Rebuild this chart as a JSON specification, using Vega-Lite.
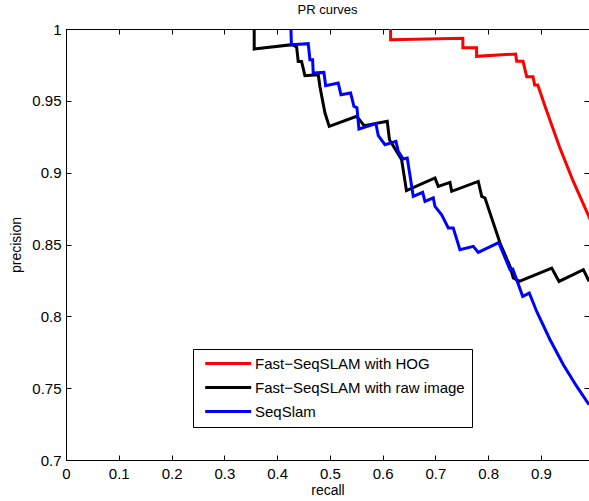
{
  "$schema": "https://vega.github.io/schema/vega-lite/v6.json",
  "width": 523,
  "height": 431,
  "autosize": {"type": "none"},
  "padding": {"left": 66, "top": 29, "right": 0, "bottom": 41},
  "background": "white",
  "title": {"text": "PR curves", "font": "Liberation Sans", "fontSize": 13, "fontWeight": "normal", "color": "black", "anchor": "middle", "offset": 5},
  "config": {
    "view": {"stroke": "black", "strokeWidth": 1},
    "axis": {
      "grid": false,
      "domainColor": "black",
      "tickColor": "black",
      "labelColor": "black",
      "titleColor": "black",
      "labelFont": "Liberation Sans",
      "titleFont": "Liberation Sans",
      "labelFontSize": 15,
      "titleFontSize": 14,
      "titleFontWeight": "normal",
      "tickSize": -5
    }
  },
  "data": {
    "values": [
      {"s": "Fast−SeqSLAM with HOG", "i": 0, "recall": 0.615, "precision": 1.0},
      {"s": "Fast−SeqSLAM with HOG", "i": 1, "recall": 0.615, "precision": 0.9925},
      {"s": "Fast−SeqSLAM with HOG", "i": 2, "recall": 0.752, "precision": 0.9936},
      {"s": "Fast−SeqSLAM with HOG", "i": 3, "recall": 0.752, "precision": 0.987},
      {"s": "Fast−SeqSLAM with HOG", "i": 4, "recall": 0.778, "precision": 0.987},
      {"s": "Fast−SeqSLAM with HOG", "i": 5, "recall": 0.778, "precision": 0.981},
      {"s": "Fast−SeqSLAM with HOG", "i": 6, "recall": 0.852, "precision": 0.9826},
      {"s": "Fast−SeqSLAM with HOG", "i": 7, "recall": 0.854, "precision": 0.9775},
      {"s": "Fast−SeqSLAM with HOG", "i": 8, "recall": 0.866, "precision": 0.9775},
      {"s": "Fast−SeqSLAM with HOG", "i": 9, "recall": 0.873, "precision": 0.9668},
      {"s": "Fast−SeqSLAM with HOG", "i": 10, "recall": 0.885, "precision": 0.9668},
      {"s": "Fast−SeqSLAM with HOG", "i": 11, "recall": 0.888, "precision": 0.961},
      {"s": "Fast−SeqSLAM with HOG", "i": 12, "recall": 0.894, "precision": 0.961},
      {"s": "Fast−SeqSLAM with HOG", "i": 13, "recall": 0.907, "precision": 0.947},
      {"s": "Fast−SeqSLAM with HOG", "i": 14, "recall": 0.935, "precision": 0.918},
      {"s": "Fast−SeqSLAM with HOG", "i": 15, "recall": 0.96, "precision": 0.895},
      {"s": "Fast−SeqSLAM with HOG", "i": 16, "recall": 0.989, "precision": 0.871},
      {"s": "Fast−SeqSLAM with HOG", "i": 17, "recall": 0.995, "precision": 0.866},

      {"s": "Fast−SeqSLAM with raw image", "i": 0, "recall": 0.3566, "precision": 1.0},
      {"s": "Fast−SeqSLAM with raw image", "i": 1, "recall": 0.3566, "precision": 0.9861},
      {"s": "Fast−SeqSLAM with raw image", "i": 2, "recall": 0.4286, "precision": 0.9891},
      {"s": "Fast−SeqSLAM with raw image", "i": 3, "recall": 0.437, "precision": 0.9875},
      {"s": "Fast−SeqSLAM with raw image", "i": 4, "recall": 0.44, "precision": 0.9774},
      {"s": "Fast−SeqSLAM with raw image", "i": 5, "recall": 0.4464, "precision": 0.9774},
      {"s": "Fast−SeqSLAM with raw image", "i": 6, "recall": 0.4527, "precision": 0.9675},
      {"s": "Fast−SeqSLAM with raw image", "i": 7, "recall": 0.478, "precision": 0.9682},
      {"s": "Fast−SeqSLAM with raw image", "i": 8, "recall": 0.4811, "precision": 0.96},
      {"s": "Fast−SeqSLAM with raw image", "i": 9, "recall": 0.4906, "precision": 0.9417},
      {"s": "Fast−SeqSLAM with raw image", "i": 10, "recall": 0.4988, "precision": 0.9322},
      {"s": "Fast−SeqSLAM with raw image", "i": 11, "recall": 0.5507, "precision": 0.9392},
      {"s": "Fast−SeqSLAM with raw image", "i": 12, "recall": 0.5651, "precision": 0.9327},
      {"s": "Fast−SeqSLAM with raw image", "i": 13, "recall": 0.6087, "precision": 0.9357},
      {"s": "Fast−SeqSLAM with raw image", "i": 14, "recall": 0.6129, "precision": 0.9229},
      {"s": "Fast−SeqSLAM with raw image", "i": 15, "recall": 0.636, "precision": 0.909},
      {"s": "Fast−SeqSLAM with raw image", "i": 16, "recall": 0.6451, "precision": 0.8875},
      {"s": "Fast−SeqSLAM with raw image", "i": 17, "recall": 0.6992, "precision": 0.8963},
      {"s": "Fast−SeqSLAM with raw image", "i": 18, "recall": 0.7054, "precision": 0.8904},
      {"s": "Fast−SeqSLAM with raw image", "i": 19, "recall": 0.7276, "precision": 0.8932},
      {"s": "Fast−SeqSLAM with raw image", "i": 20, "recall": 0.7308, "precision": 0.887},
      {"s": "Fast−SeqSLAM with raw image", "i": 21, "recall": 0.7812, "precision": 0.8939},
      {"s": "Fast−SeqSLAM with raw image", "i": 22, "recall": 0.7877, "precision": 0.8835},
      {"s": "Fast−SeqSLAM with raw image", "i": 23, "recall": 0.7939, "precision": 0.8824},
      {"s": "Fast−SeqSLAM with raw image", "i": 24, "recall": 0.8224, "precision": 0.851},
      {"s": "Fast−SeqSLAM with raw image", "i": 25, "recall": 0.8413, "precision": 0.8348},
      {"s": "Fast−SeqSLAM with raw image", "i": 26, "recall": 0.8476, "precision": 0.8267},
      {"s": "Fast−SeqSLAM with raw image", "i": 27, "recall": 0.859, "precision": 0.8243},
      {"s": "Fast−SeqSLAM with raw image", "i": 28, "recall": 0.9204, "precision": 0.8336},
      {"s": "Fast−SeqSLAM with raw image", "i": 29, "recall": 0.9342, "precision": 0.8243},
      {"s": "Fast−SeqSLAM with raw image", "i": 30, "recall": 0.9803, "precision": 0.8325},
      {"s": "Fast−SeqSLAM with raw image", "i": 31, "recall": 0.9911, "precision": 0.8243},

      {"s": "SeqSlam", "i": 0, "recall": 0.4262, "precision": 1.0},
      {"s": "SeqSlam", "i": 1, "recall": 0.4271, "precision": 0.9891},
      {"s": "SeqSlam", "i": 2, "recall": 0.459, "precision": 0.9898},
      {"s": "SeqSlam", "i": 3, "recall": 0.4622, "precision": 0.9786},
      {"s": "SeqSlam", "i": 4, "recall": 0.4673, "precision": 0.9786},
      {"s": "SeqSlam", "i": 5, "recall": 0.4684, "precision": 0.9694},
      {"s": "SeqSlam", "i": 6, "recall": 0.4887, "precision": 0.9698},
      {"s": "SeqSlam", "i": 7, "recall": 0.492, "precision": 0.9605},
      {"s": "SeqSlam", "i": 8, "recall": 0.5158, "precision": 0.9624},
      {"s": "SeqSlam", "i": 9, "recall": 0.521, "precision": 0.9543},
      {"s": "SeqSlam", "i": 10, "recall": 0.5393, "precision": 0.9555},
      {"s": "SeqSlam", "i": 11, "recall": 0.5456, "precision": 0.9461},
      {"s": "SeqSlam", "i": 12, "recall": 0.5513, "precision": 0.9452},
      {"s": "SeqSlam", "i": 13, "recall": 0.5551, "precision": 0.9304},
      {"s": "SeqSlam", "i": 14, "recall": 0.5873, "precision": 0.9341},
      {"s": "SeqSlam", "i": 15, "recall": 0.5917, "precision": 0.9257},
      {"s": "SeqSlam", "i": 16, "recall": 0.6044, "precision": 0.9195},
      {"s": "SeqSlam", "i": 17, "recall": 0.6252, "precision": 0.9218},
      {"s": "SeqSlam", "i": 18, "recall": 0.6296, "precision": 0.9148},
      {"s": "SeqSlam", "i": 19, "recall": 0.6391, "precision": 0.9095},
      {"s": "SeqSlam", "i": 20, "recall": 0.6466, "precision": 0.9102},
      {"s": "SeqSlam", "i": 21, "recall": 0.658, "precision": 0.8835},
      {"s": "SeqSlam", "i": 22, "recall": 0.6758, "precision": 0.8863},
      {"s": "SeqSlam", "i": 23, "recall": 0.6802, "precision": 0.88},
      {"s": "SeqSlam", "i": 24, "recall": 0.6959, "precision": 0.8824},
      {"s": "SeqSlam", "i": 25, "recall": 0.6992, "precision": 0.8765},
      {"s": "SeqSlam", "i": 26, "recall": 0.7118, "precision": 0.8707},
      {"s": "SeqSlam", "i": 27, "recall": 0.7244, "precision": 0.8615},
      {"s": "SeqSlam", "i": 28, "recall": 0.7338, "precision": 0.8615},
      {"s": "SeqSlam", "i": 29, "recall": 0.7465, "precision": 0.8464},
      {"s": "SeqSlam", "i": 30, "recall": 0.7718, "precision": 0.8487},
      {"s": "SeqSlam", "i": 31, "recall": 0.7812, "precision": 0.8445},
      {"s": "SeqSlam", "i": 32, "recall": 0.82, "precision": 0.8513},
      {"s": "SeqSlam", "i": 33, "recall": 0.8413, "precision": 0.8325},
      {"s": "SeqSlam", "i": 34, "recall": 0.8465, "precision": 0.833},
      {"s": "SeqSlam", "i": 35, "recall": 0.8654, "precision": 0.8139},
      {"s": "SeqSlam", "i": 36, "recall": 0.8779, "precision": 0.8162},
      {"s": "SeqSlam", "i": 37, "recall": 0.8919, "precision": 0.8034},
      {"s": "SeqSlam", "i": 38, "recall": 0.9172, "precision": 0.7837},
      {"s": "SeqSlam", "i": 39, "recall": 0.9424, "precision": 0.7663},
      {"s": "SeqSlam", "i": 40, "recall": 0.9678, "precision": 0.7512},
      {"s": "SeqSlam", "i": 41, "recall": 0.9911, "precision": 0.7385}
    ]
  },
  "layer": [
    {
      "mark": {"type": "line", "strokeWidth": 3, "clip": true},
      "encoding": {
        "x": {
          "field": "recall", "type": "quantitative",
          "scale": {"domain": [0, 0.991], "nice": false, "zero": false},
          "axis": {"orient": "bottom", "values": [0, 0.1, 0.2, 0.3, 0.4, 0.5, 0.6, 0.7, 0.8, 0.9], "format": "~g", "title": "recall", "labelPadding": 11, "titlePadding": 2, "labelFlush": false}
        },
        "y": {
          "field": "precision", "type": "quantitative",
          "scale": {"domain": [0.7, 1], "nice": false, "zero": false},
          "axis": {"orient": "left", "values": [0.7, 0.75, 0.8, 0.85, 0.9, 0.95, 1], "format": "~g", "title": "precision", "labelPadding": 10, "titlePadding": 8, "labelFlush": false}
        },
        "color": {
          "field": "s", "type": "nominal",
          "scale": {"domain": ["Fast−SeqSLAM with HOG", "Fast−SeqSLAM with raw image", "SeqSlam"], "range": ["#ff0000", "#000000", "#0000ff"]},
          "legend": {
            "title": null, "orient": "none", "legendX": 127, "legendY": 320,
            "symbolType": "M-1,0H19", "symbolSize": 21.16, "symbolStrokeWidth": 3,
            "labelFont": "Liberation Sans", "labelFontSize": 15, "labelColor": "black", "labelLimit": 400,
            "labelOffset": 40, "rowPadding": 8, "padding": 7,
            "fillColor": "white", "strokeColor": "black"
          }
        },
        "order": {"field": "i", "type": "quantitative"}
      }
    },
    {
      "mark": {"type": "line", "opacity": 0},
      "encoding": {
        "x": {
          "field": "recall", "type": "quantitative",
          "axis": {"orient": "top", "values": [0, 0.1, 0.2, 0.3, 0.4, 0.5, 0.6, 0.7, 0.8, 0.9], "labels": false, "title": null}
        },
        "y": {
          "field": "precision", "type": "quantitative",
          "axis": {"orient": "right", "values": [0.7, 0.75, 0.8, 0.85, 0.9, 0.95, 1], "labels": false, "title": null, "domain": false}
        },
        "detail": {"field": "s", "type": "nominal"},
        "order": {"field": "i", "type": "quantitative"}
      }
    }
  ]
}
